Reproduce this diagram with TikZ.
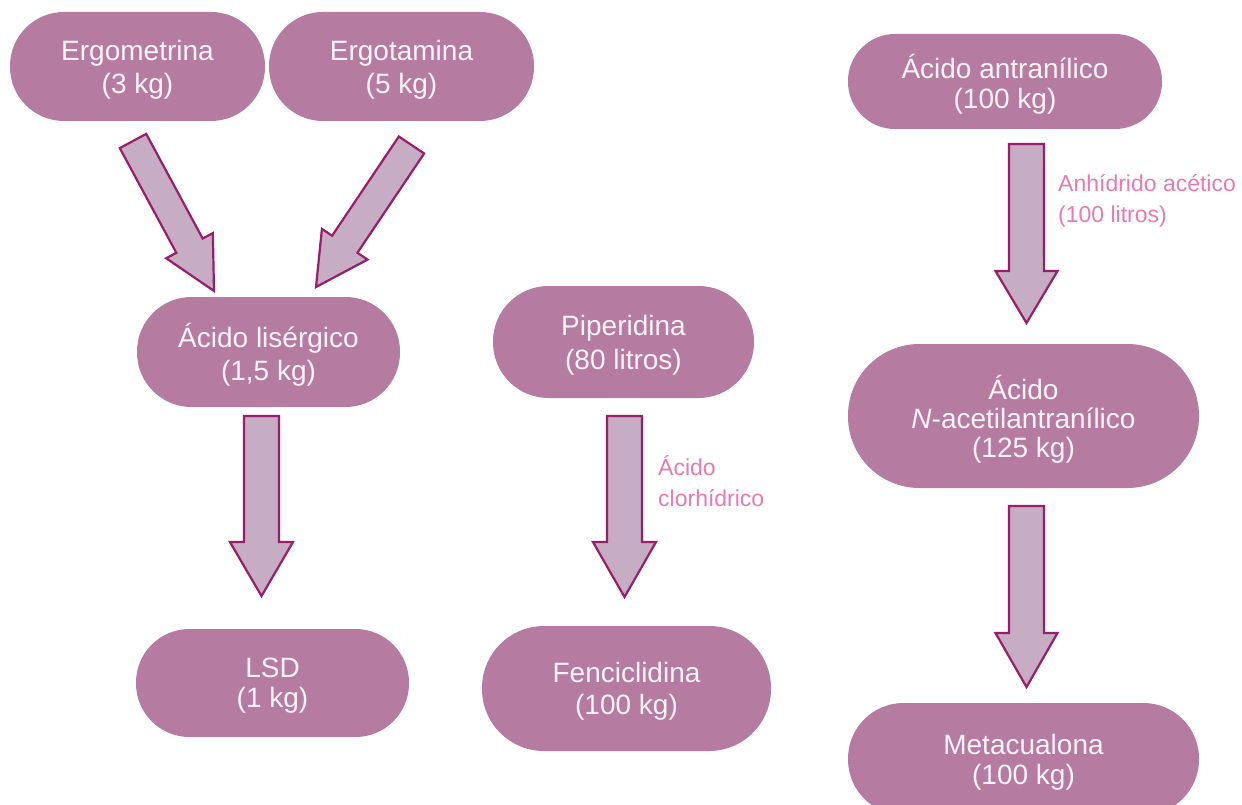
\documentclass[tikz,border=0pt]{standalone}
\usepackage{fontspec}
\setmainfont{Liberation Sans}
\usetikzlibrary{calc}
\definecolor{pillfill}{HTML}{B57BA1}
\definecolor{pilltext}{HTML}{FBF3F8}
\definecolor{arrowfill}{HTML}{C6ADC3}
\definecolor{arrowline}{HTML}{981E6C}
\definecolor{labelpink}{HTML}{E77BAF}
\tikzset{
  pillbox/.style={fill=pillfill, text=pilltext, inner sep=0pt, align=center, text depth=0pt},
  barrow/.style={draw=arrowline, fill=arrowfill, line width=2.2pt, line join=miter},
  sidelabel/.style={text=labelpink, inner sep=0pt, align=left, anchor=west,
    font=\fontsize{23}{31}\selectfont}
}
\newcommand{\blockarrow}[5]{%
  \draw[barrow] let \p1=(#1), \p2=(#2),
     \n1={atan2(\y2-\y1,\x2-\x1)},
     \n2={10*veclen((\x2-\x1)/10,(\y2-\y1)/10)} in
     [shift={(\p1)}, rotate=\n1]
     (0pt,{#3pt/2}) -- ({\n2-#5pt},{#3pt/2}) -- ({\n2-#5pt},{#4pt/2})
     -- ({\n2},0pt) -- ({\n2-#5pt},{-#4pt/2}) -- ({\n2-#5pt},{-#3pt/2})
     -- (0pt,{-#3pt/2}) -- cycle;%
}
\begin{document}
\begin{tikzpicture}[x=1pt,y=-1pt]
\useasboundingbox (0,0) rectangle (1242,805);
\clip (0,0) rectangle (1242,805);
\fill[white] (0,0) rectangle (1242,805);
% pills
\node[pillbox, minimum width=255pt, minimum height=109pt, rounded corners=54pt,
  font=\fontsize{28}{33}\selectfont] (erm) at (137.5,66.5) {Ergometrina\\(3 kg)};
\node[pillbox, minimum width=265pt, minimum height=109pt, rounded corners=54pt,
  font=\fontsize{28}{33}\selectfont] (ert) at (401.5,66.5) {Ergotamina\\(5 kg)};
\node[pillbox, minimum width=263pt, minimum height=110pt, rounded corners=54.5pt,
  font=\fontsize{28}{33}\selectfont] (lis) at (268.5,352) {Ácido lisérgico\\(1,5 kg)};
\node[pillbox, minimum width=273pt, minimum height=108pt, rounded corners=53.5pt,
  font=\fontsize{28}{30}\selectfont] (lsd) at (272.5,683) {LSD\\(1 kg)};
\node[pillbox, minimum width=261pt, minimum height=112pt, rounded corners=55.5pt,
  font=\fontsize{28}{34}\selectfont] (pip) at (623.5,342) {Piperidina\\(80 litros)};
\node[pillbox, minimum width=289pt, minimum height=125pt, rounded corners=62pt,
  font=\fontsize{28}{32}\selectfont] (fen) at (626.5,688.5) {Fenciclidina\\(100 kg)};
\node[pillbox, minimum width=314pt, minimum height=95pt, rounded corners=47pt,
  font=\fontsize{28}{30}\selectfont] (ant) at (1005,81.5) {Ácido antranílico\\(100 kg)};
\node[pillbox, minimum width=351pt, minimum height=144pt, rounded corners=71.5pt,
  font=\fontsize{28}{29}\selectfont] (nac) at (1023.5,416) {Ácido\\\textit{N}-acetilantranílico\\(125 kg)};
\node[pillbox, minimum width=351pt, minimum height=112pt, rounded corners=55.5pt,
  font=\fontsize{28}{30}\selectfont] (met) at (1023.5,759) {Metacualona\\(100 kg)};
% arrow end points
\coordinate (a1s) at (133,141);    \coordinate (a1e) at (214,291);
\coordinate (a2s) at (411.5,145);  \coordinate (a2e) at (316,287);
\coordinate (a3s) at (261.5,416);  \coordinate (a3e) at (261.5,596);
\coordinate (a4s) at (624.5,416);  \coordinate (a4e) at (624.5,597);
\coordinate (a5s) at (1026.5,144); \coordinate (a5e) at (1026.5,323);
\coordinate (a6s) at (1026.5,506); \coordinate (a6e) at (1026.5,687);
\blockarrow{a1s}{a1e}{30}{53}{51.5}
\blockarrow{a2s}{a2e}{30.5}{55}{51.5}
\blockarrow{a3s}{a3e}{35}{63}{54}
\blockarrow{a4s}{a4e}{35}{63}{55}
\blockarrow{a5s}{a5e}{35}{62}{52}
\blockarrow{a6s}{a6e}{35}{62}{54}
% side labels
\node[sidelabel] (lab1) at (658,481) {Ácido\\clorhídrico};
\node[sidelabel] (lab2) at (1058,201) {Anhídrido acético\\(100 litros)};
\end{tikzpicture}
\end{document}
